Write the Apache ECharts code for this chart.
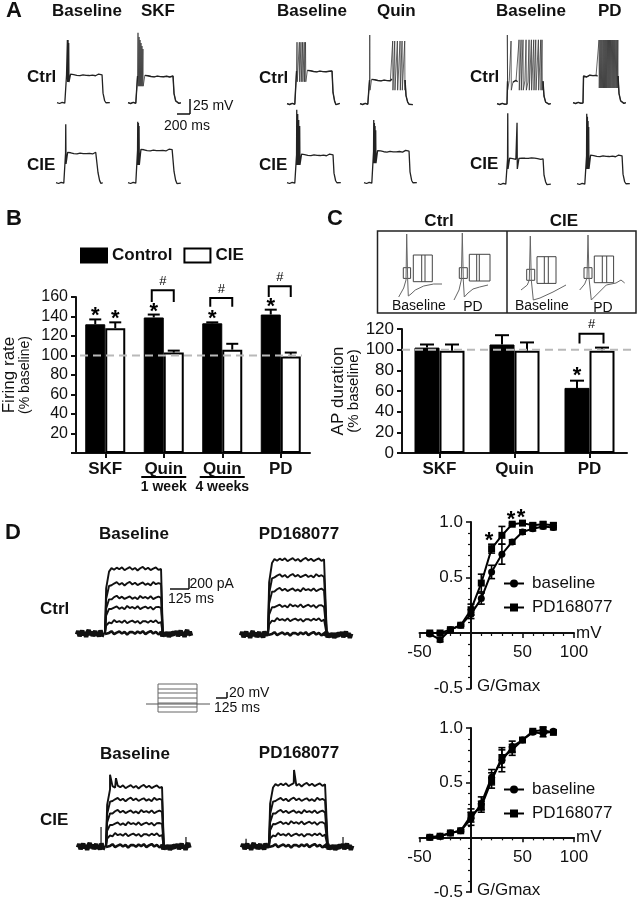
<!DOCTYPE html>
<html><head><meta charset="utf-8">
<style>html,body{margin:0;padding:0;background:#fff}#c{width:638px;height:899px}</style>
<script src="https://cdn.jsdelivr.net/npm/echarts@6/dist/echarts.min.js"></script>
</head><body><div id="c"></div>
<script>
// ---------- DATA ----------
const firingCats = ['SKF','Quin\n1 week','Quin\n4 weeks','PD'];
const firingControl = [132,139,133,142];
const firingCIE = [128,103,106,99];
const firingControlTop = [137,142,134,147];
const firingCIETop = [134,105,112,103];
const firingStars = [[0,-1,137],[0,1,134],[1,-1,142],[2,-1,134],[3,-1,147]];
const firingBrackets = [[1,167,155],[2,159,150],[3,171,160]];
const durCats = ['SKF','Quin','PD'];
const durControl = [102,105,63];
const durCIE = [99,99,99];
const durControlTop = [105,114,70];
const durCIETop = [105,107,102];
const durStars = [[2,-1,72]];
const durBrackets = [[2,115.5,106]];
const mV = [-40,-30,-20,-10,0,10,20,30,40,50,60,70,80];
const ctrlBaseG = [-0.01,-0.06,0.03,0.07,0.17,0.31,0.55,0.71,0.82,0.91,0.94,0.96,0.95];
const ctrlBaseE = [0.01,0.02,0.01,0.01,0.04,0.05,0.06,0.09,0.02,0.02,0.02,0.02,0.02];
const ctrlPdG = [0,0,0.03,0.07,0.21,0.45,0.76,0.88,0.98,0.99,0.97,0.98,0.97];
const ctrlPdE = [0.01,0.01,0.01,0.01,0.05,0.08,0.04,0.08,0.01,0.01,0.02,0.02,0.02];
const cieBaseG = [0,0.01,0.04,0.06,0.17,0.31,0.55,0.70,0.83,0.89,0.96,0.95,0.97];
const cieBaseE = [0.01,0.01,0.01,0.01,0.06,0.06,0.07,0.10,0.05,0.01,0.01,0.03,0.01];
const ciePdG = [0,0.01,0.04,0.06,0.20,0.28,0.52,0.73,0.80,0.89,0.97,0.98,0.96];
const ciePdE = [0.01,0.01,0.01,0.01,0.06,0.05,0.07,0.09,0.05,0.01,0.01,0.03,0.01];
const ctrlStars = [[17.5,0.83],[38.8,1.02],[48.5,1.04]];
// action-potential traces: ms, mV above rest
const plateauNoise = [0.8,-1.2,1.5,-0.5,1.0,-1.6,0.4,1.3,-0.9,0.6,-1.4,1.1,-0.3,0.9,-1.0];
const apCtrlBase1 = {on:139,off:693,end:832,plat:47,trough:35,spikes:[[160,105],[170,105],[180,100]]};
const apCtrlDrug1 = {on:139,off:693,end:832,plat:45,trough:28,spikes:[[154,117],[170,110],[185,105],[200,100],[215,95],[230,90]]};
const apCieBase1 = {on:139,off:631,end:739,plat:50,trough:32,spikes:[[150,98]]};
const apCieDrug1 = {on:139,off:693,end:832,plat:55,trough:30,spikes:[[150,102],[160,100],[170,95]]};
const apCtrlBase2 = {on:139,off:693,end:832,plat:55,trough:37,spikes:[[154,103],[190,103],[215,103],[240,103],[265,103],[285,103]]};
const apCieBase2 = {on:139,off:708,end:847,plat:47,trough:30,spikes:[[150,122],[165,115],[180,105],[195,95]]};
const apCtrlDrug2 = {on:139,off:693,end:832,plat:40,trough:23,spikes:[[150,115],[503,105],[534,105],[575,105],[616,105],[647,105],[688,105]]};
const apCieDrug2 = {on:139,off:693,end:832,plat:53,trough:33,spikes:[[150,105],[160,100],[170,95],[180,88]]};
const apCtrlBase3 = {on:154,off:708,end:832,plat:38,trough:23,spikes:[[159,115],[216,105],[339,107],[370,107],[400,107],[447,107],[493,107],[529,107],[565,107],[596,107],[637,107],[673,107],[693,107]]};
const apCtrlDrug3 = {on:154,off:693,end:832,plat:45,trough:25,spikes:[[400,105],[416,105],[432,105],[448,105],[465,105],[481,105],[497,105],[513,105],[530,105],[546,105],[562,105],[578,105],[595,105],[611,105],[627,105],[643,105],[660,105],[676,105],[690,105]]};
const apCieBase3 = {on:139,off:693,end:832,plat:42,trough:25,spikes:[[150,118],[293,102]]};
const apCieDrug3 = {on:139,off:693,end:832,plat:47,trough:25,spikes:[[150,117],[160,112],[170,105],[180,95]]};
// AP waveform insets
const waveCtrlBase = [[1.7,5],[6.7,14],[9,22],[9.7,68],[10.7,22],[11.3,6],[14,8],[18.3,12],[26.7,16],[36.7,18],[45,18]];
const waveCtrlPd = [[1,2],[6,12],[8.3,22],[9.3,69],[10.3,22],[11.3,5],[15,9],[20,13],[26.7,15],[35,17]];
const waveCieBase = [[1,12],[7.3,17],[9.3,22],[10.3,66],[11.3,22],[13.3,2],[20,4],[33,10],[46,17]];
const waveCiePd = [[1.7,12],[6.7,18],[9,24],[10,67],[11,24],[13.3,2],[18.3,7],[28.3,17],[38,19],[43,22],[46.7,19]];
// K current traces: ms, pA
const currentNoise = [30,-25,45,-10,55,-40,15,60,-20,35,-50,25,70,-15,40,-35,10,50,-30,20,-45,65,-5,30,-25,55,-40,10,45,-20,35,-55,25];
const iCtrlBase = {on:193,off:580,end:787,levels:[1170,900,650,470,216,20],tops:[],rest:[]};
const iCtrlPd = {on:186,off:580,end:766,levels:[1350,1060,810,520,270,20],tops:[],rest:[]};
const iCieBase = {on:193,off:580,end:773,levels:[1080,850,630,415,216,20],tops:[[221,1300],[262,1240]],rest:[[159,360],[745,180]]};
const iCiePd = {on:186,off:580,end:766,levels:[1116,850,630,430,216,20],tops:[[359,1386]],rest:[[28,150],[697,180]]};
const stepLevels = [-16,-6,2,12,22,30,40];
const stepTimes = [0,60,255,320];

// ---------- BUILD ----------
const F='"Liberation Sans",Arial,sans-serif';
const K='#111';
const grid=[],xAxis=[],yAxis=[],series=[],legend=[],els=[];
function hiddenGrid(l,t,w,h,x0,x1,y0,y1){
  grid.push({left:l,top:t,width:w,height:h,outerBoundsMode:'none'});
  xAxis.push({type:'value',show:false,min:x0,max:x1,gridIndex:grid.length-1});
  yAxis.push({type:'value',show:false,min:y0,max:y1,gridIndex:grid.length-1,splitLine:{show:false}});
  return grid.length-1;
}
function line(g,data,w,c){series.push({type:'line',xAxisIndex:g,yAxisIndex:g,data,symbol:'none',silent:true,clip:false,connectNulls:false,lineStyle:{width:w,color:c},animation:false});}
function apPoints(tr){
  const p=[],q=[];let n=0;const N=plateauNoise;
  const quiet=(t,v)=>{p.push([t,v]);q.push([t,v]);};
  const spike=(t,v)=>{p.push([t,v]);q.push([t,null]);};
  for(let t=0;t<tr.on;t+=40)quiet(t,N[n++%N.length]*0.7);
  quiet(tr.on,0);quiet(tr.on+8,tr.plat);
  let cur=tr.on+8;
  const fill=(a,b)=>{for(let t=a+25;t<b-8;t+=24)quiet(t,tr.plat+N[n++%N.length]);};
  tr.spikes.forEach(s=>{ if(s[0]-cur>40)fill(cur,s[0]); spike(s[0],s[1]);spike(s[0]+4,tr.trough);cur=s[0]+4;});
  if(tr.off-cur>20){fill(cur,tr.off);}
  quiet(tr.off,tr.plat);quiet(tr.off+15,tr.plat*0.35);quiet(tr.off+40,tr.plat*0.08);
  for(let t=tr.off+60;t<=tr.end;t+=30)quiet(t,N[n++%N.length]*0.7);
  return {all:p,quiet:q};
}
const mvPx=25/15,msPx=200/13;
function apTrace(tr,x0,base){
  const g=hiddenGrid(x0,base-80,60,100,0,60*msPx,-20*mvPx,80*mvPx);
  const dense=tr.spikes.length>=6;
  const pts=apPoints(tr);
  line(g,pts.all,dense?0.75:1.3,dense?'#333':'#222');
  if(dense)line(g,pts.quiet,1.4,'#222');
}
[[apCtrlBase1,57,103],[apCtrlDrug1,128,103],[apCieBase1,56,183],[apCieDrug1,128,183],
 [apCtrlBase2,287,104],[apCieBase2,287,183],[apCtrlDrug2,360,104],[apCieDrug2,364,183],
 [apCtrlBase3,497,104],[apCtrlDrug3,573,103],[apCieBase3,498,184],[apCieDrug3,577,184]]
 .forEach(a=>apTrace(a[0],a[1],a[2]));

function currentTrace(tr,x0,base){
  const g=hiddenGrid(x0,base-85,120,100,0,120*6.9,-15*18,85*18);
  const Nn=currentNoise;
  tr.levels.forEach((L,li)=>{
    const p=[[tr.on,0],[tr.on+8,L*0.7],[tr.on+28,L*0.96]];
    let n=li*5;
    for(let t=tr.on+45;t<tr.off-4;t+=18){
      p.push([t,L+Nn[n++%Nn.length]*0.55]);
    }
    if(li===0)tr.tops.forEach(s=>p.push(s));
    if(li===0)p.sort((a,b)=>a[0]-b[0]);
    p.push([tr.off,L]);p.push([tr.off+12,0]);
    line(g,p,li==5?2.6:1.9,K);
  });
  const left=[],right=[];let n=3;
  for(let t=0;t<=tr.on;t+=9)left.push([t,Nn[n++%Nn.length]]);
  for(let t=tr.off;t<=tr.end;t+=9)right.push([t,Nn[n++%Nn.length]]);
  line(g,left,4.5,K);line(g,right,4.5,K);
  tr.rest.forEach(s=>line(g,[[s[0],0],[s[0],s[1]]],1.2,K));
}
currentTrace(iCtrlBase,77,634);currentTrace(iCtrlPd,241,635);currentTrace(iCieBase,78,847);currentTrace(iCiePd,242,847);

// protocol
(function(){
  const g=hiddenGrid(146,666,64,48,0,320,-20,76);
  stepLevels.forEach(v=>{line(g,[[stepTimes[1],v],[stepTimes[2],v]],1,'#666');});
  line(g,[[stepTimes[1],stepLevels[0]],[stepTimes[1],stepLevels[6]]],1,'#666');
  line(g,[[stepTimes[2],stepLevels[0]],[stepTimes[2],stepLevels[6]]],1,'#666');
  line(g,[[stepTimes[0],0],[stepTimes[3],0]],1,'#555');
})();

// wave insets
[[waveCtrlBase,397],[waveCtrlPd,453],[waveCieBase,520],[waveCiePd,578]].forEach(a=>{
  const g=hiddenGrid(a[1],227,60,75,0,60,0,75);line(g,a[0],1,'#666');
});

function axisBar(l,t,w,h,cats,maxV,interval,fs,name,nameGap,hideZero){
  grid.push({left:l,top:t,width:w,height:h,outerBoundsMode:'none'});
  const g=grid.length-1;
  xAxis.push({type:'category',gridIndex:g,data:cats,boundaryGap:true,
    axisLine:{lineStyle:{color:K,width:2}},axisTick:{show:true,alignWithLabel:true,length:5,lineStyle:{color:K,width:2}},
    axisLabel:{interval:0,margin:7,color:K,formatter:v=>{const s=v.split('\n');return s.length>1?'{b|'+s[0]+'}\n{s|'+s[1]+'}':'{b|'+s[0]+'}';},
      rich:{b:{fontSize:17,fontWeight:'bold',fontFamily:F,color:K,lineHeight:19},s:{fontSize:14,fontWeight:'bold',fontFamily:F,color:K,lineHeight:17}}}});
  yAxis.push({type:'value',gridIndex:g,min:0,max:maxV,interval,splitLine:{show:false},
    name:'{a|'+name+'}\n{b|(% baseline)}',nameLocation:'middle',nameGap,nameRotate:90,
    nameTextStyle:{rich:{a:{fontSize:17,fontFamily:F,color:K,lineHeight:17},b:{fontSize:fs>16?15:14,fontFamily:F,color:K,lineHeight:15}}},
    axisLine:{show:true,lineStyle:{color:K,width:2}},axisTick:{show:true,length:5,lineStyle:{color:K,width:2}},
    axisLabel:{margin:8,color:K,fontSize:fs,fontFamily:F,formatter:v=>(hideZero&&v===0)?'':String(v)}});
  return g;
}
function bars(g,ctrl,cie,bw){
  series.push({type:'bar',name:'Control',xAxisIndex:g,yAxisIndex:g,data:ctrl,barWidth:bw,barGap:0,itemStyle:{color:'#000',borderColor:'#000',borderWidth:1},silent:true,z:2});
  series.push({type:'bar',name:'CIE',xAxisIndex:g,yAxisIndex:g,data:cie,barWidth:bw,barGap:0,itemStyle:{color:'#fff',borderColor:'#000',borderWidth:2},silent:true,z:2});
}
function barErr(g,vals,tops,shift,cap){
  series.push({type:'custom',xAxisIndex:g,yAxisIndex:g,silent:true,z:1,data:vals.map((v,i)=>[i,v,tops[i]]),
    renderItem:(p,api)=>{
      const a=api.coord([api.value(0),api.value(1)]),b=api.coord([api.value(0),api.value(2)]);
      const x=a[0]+shift;const st={stroke:'#000',lineWidth:2};
      return {type:'group',children:[
        {type:'line',shape:{x1:x,y1:a[1],x2:x,y2:b[1]},style:st},
        {type:'line',shape:{x1:x-cap,y1:b[1],x2:x+cap,y2:b[1]},style:st}]};
    }});
}
function annotate(g,stars,brackets,shift,bl,br,under,dash0,dash1,dashDash){
  series.push({type:'custom',xAxisIndex:g,yAxisIndex:g,silent:true,z:5,data:stars,
    renderItem:(p,api)=>{const c=api.coord([api.value(0),api.value(2)]);
      return {type:'text',x:c[0]+api.value(1)*shift,y:c[1]-3,style:{text:'*',font:'bold 22px '+F,fill:'#000',textAlign:'center',textVerticalAlign:'middle'}};}});
  series.push({type:'custom',xAxisIndex:g,yAxisIndex:g,silent:true,z:5,data:brackets,
    renderItem:(p,api)=>{const t=api.coord([api.value(0),api.value(1)]),b=api.coord([api.value(0),api.value(2)]);
      const x1=t[0]+bl,x2=t[0]+br;
      return {type:'group',children:[
        {type:'polyline',shape:{points:[[x1,b[1]],[x1,t[1]],[x2,t[1]],[x2,b[1]]]},style:{stroke:'#000',lineWidth:2,fill:null}},
        {type:'text',x:(x1+x2)/2,y:t[1]-9,style:{text:'#',font:'13px '+F,fill:'#000',textAlign:'center',textVerticalAlign:'middle'}}]};}});
  series.push({type:'custom',xAxisIndex:g,yAxisIndex:g,silent:true,z:6,data:[[0,100]],
    renderItem:(p,api)=>{const c=api.coord([0,100]);const s=p.coordSys;
      return {type:'line',shape:{x1:s.x+dash0,y1:c[1],x2:s.x+s.width+dash1,y2:c[1]},style:{stroke:'#b9b9b9',lineWidth:2,lineDash:dashDash}};}});
  if(under.length) series.push({type:'custom',xAxisIndex:g,yAxisIndex:g,silent:true,z:5,data:under.map(i=>[i,0]),
    renderItem:(p,api)=>{const c=api.coord([api.value(0),0]);
      return {type:'line',shape:{x1:c[0]-22.5,y1:c[1]+24,x2:c[0]+22.5,y2:c[1]+24},style:{stroke:'#000',lineWidth:2}};}});
}
const gB=axisBar(76,297,234,156,firingCats,160,20,16,'Firing rate',43,true);
bars(gB,firingControl,firingCIE,20);
barErr(gB,firingControl,firingControlTop,-10,6);barErr(gB,firingCIE,firingCIETop,10,6);
annotate(gB,firingStars,firingBrackets,10,-12,10,[1,2],4,-8,[8,5]);
const gC=axisBar(402,329,225,124,durCats,120,20,17,'AP duration',36,false);
bars(gC,durControl,durCIE,25);
barErr(gC,durControl,durControlTop,-12.5,7);barErr(gC,durCIE,durCIETop,12.5,7);
annotate(gC,durStars,durBrackets,12.5,-10,14,[],0,9,[8,5]);

function xy(l,t,w,h,base,baseE,pd,pdE,stars,legTop){
  grid.push({left:l,top:t,width:w,height:h,outerBoundsMode:'none'});
  const g=grid.length-1;
  const ax={axisTick:{show:true,length:5,lineStyle:{color:K,width:1.6}},
    minorTick:{show:true,splitNumber:5,length:3,lineStyle:{color:K,width:1.2}},splitLine:{show:false}};
  const line2={show:true,onZero:false,lineStyle:{color:K,width:2}};
  xAxis.push(Object.assign({type:'value',gridIndex:g,min:-50,max:100,interval:50,position:'bottom',offset:-h/3,axisLine:line2,name:'mV',nameGap:2,nameTextStyle:{fontSize:17,fontFamily:F,color:K},
    axisLabel:{margin:11,fontSize:17,fontFamily:F,color:K,formatter:v=>v===0?'':String(v)}},ax));
  yAxis.push(Object.assign({type:'value',gridIndex:g,min:-0.5,max:1,interval:0.5,position:'left',offset:-w/3,axisLine:line2,name:'G/Gmax',nameLocation:'start',nameGap:-2,
    nameTextStyle:{fontSize:17,fontFamily:F,color:K,align:'left',padding:[0,0,0,6],verticalAlign:'middle'},
    axisLabel:{margin:8,fontSize:17,fontFamily:F,color:K,formatter:v=>v===0?'':v.toFixed(1)}},ax));
  const err=(vals,es)=>series.push({type:'custom',xAxisIndex:g,yAxisIndex:g,silent:true,z:3,data:mV.map((m,i)=>[m,vals[i],es[i]]),
    renderItem:(p,api)=>{const x=api.value(0),y=api.value(1),e=api.value(2);const a=api.coord([x,y+e]),b=api.coord([x,y-e]);const st={stroke:'#000',lineWidth:1.6};
      return {type:'group',children:[{type:'line',shape:{x1:a[0],y1:a[1],x2:b[0],y2:b[1]},style:st},
        {type:'line',shape:{x1:a[0]-3.5,y1:a[1],x2:a[0]+3.5,y2:a[1]},style:st},
        {type:'line',shape:{x1:b[0]-3.5,y1:b[1],x2:b[0]+3.5,y2:b[1]},style:st}]};}});
  err(base,baseE);err(pd,pdE);
  const s=(name,vals,sym,size)=>series.push({type:'line',name,xAxisIndex:g,yAxisIndex:g,data:mV.map((m,i)=>[m,vals[i]]),symbol:sym,symbolSize:size,silent:true,z:4,showSymbol:true,
    lineStyle:{color:'#000',width:2},itemStyle:{color:'#000'}});
  s('baseline',base,'circle',7);s('PD168077',pd,'rect',7);
  if(stars.length)series.push({type:'custom',xAxisIndex:g,yAxisIndex:g,silent:true,z:5,data:stars,
    renderItem:(p,api)=>{const c=api.coord([api.value(0),api.value(1)]);
      return {type:'text',x:c[0],y:c[1],style:{text:'*',font:'bold 22px '+F,fill:'#000',textAlign:'center',textVerticalAlign:'middle'}};}});
  legend.push({left:503,top:legTop,padding:0,orient:'vertical',itemWidth:20,itemHeight:10,itemGap:7,selectedMode:false,data:['baseline','PD168077'],
    textStyle:{fontSize:17,fontFamily:F,color:K,padding:[0,0,0,3]}});
}
xy(419.5,522,154.5,166.5,ctrlBaseG,ctrlBaseE,ctrlPdG,ctrlPdE,ctrlStars,575);
xy(419.5,728,154.5,164,cieBaseG,cieBaseE,ciePdG,ciePdE,[],781);
legend.push({left:80,top:247,padding:0,orient:'horizontal',icon:'rect',itemWidth:26,itemHeight:14,itemGap:11,selectedMode:false,data:['Control','CIE'],
  textStyle:{fontSize:17,fontWeight:'bold',fontFamily:F,color:K}});

// ---------- TEXT + FRAMES ----------
function txt(s,x,y,size,bold,align){els.push({type:'text',x,y,silent:true,style:{text:s,font:(bold?'bold ':'')+size+'px '+F,fill:K,textAlign:align||'left',textVerticalAlign:'middle'}});}
function seg(x1,y1,x2,y2,w,c){els.push({type:'line',silent:true,shape:{x1,y1,x2,y2},style:{stroke:c||K,lineWidth:w||1.5}});}
function box(x,y,w,h,lw,c){els.push({type:'rect',silent:true,shape:{x,y,width:w,height:h},style:{stroke:c||'#444',lineWidth:lw||1,fill:null}});}
txt('A',6,11,22,1);txt('B',6,219,22,1);txt('C',327,219,22,1);txt('D',5,533,22,1);
txt('Baseline',52,11,17,1);txt('SKF',141,11,17,1);txt('Baseline',277,11,17,1);txt('Quin',377,11,17,1);txt('Baseline',496,11,17,1);txt('PD',598,11,17,1);
txt('Ctrl',27,77,17,1);txt('CIE',27,165,17,1);txt('Ctrl',259,78,17,1);txt('CIE',259,165,17,1);txt('Ctrl',470,77,17,1);txt('CIE',470,164,17,1);
seg(190,99,190,114);seg(177,114,190,114);txt('25 mV',193,106,14);txt('200 ms',164,126,14);
txt('Ctrl',439,221,17,1,'center');txt('CIE',564,221,17,1,'center');
box(377.5,231,258.5,82,1.5,'#222');seg(507,231,507,313,1.5,'#222');
txt('Baseline',392,306,14);txt('PD',473,307,14,0,'center');txt('Baseline',515,306,14);txt('PD',603,308,14,0,'center');
[[403.3,267.7,7.3,10.7,413.3,255,19,26.7,421.7,425],[459.3,267.7,8,10.7,469.3,254.3,20.7,26.7,476.7,479.3],
 [526.7,269.3,8,11,537,256.7,19,26.7,544.3,548.3],[584,267.7,8,10.7,594.3,256,19.3,26.7,602.3,606.7]].forEach(b=>{
  box(b[0],b[1],b[2],b[3]);box(b[4],b[5],b[6],b[7]);seg(b[8],b[5],b[8],b[5]+b[7],1,'#444');seg(b[9],b[5],b[9],b[5]+b[7],1,'#444');
});
txt('Baseline',134,534,17,1,'center');txt('PD168077',299,534,17,1,'center');txt('Baseline',135,754,17,1,'center');txt('PD168077',299,753,17,1,'center');
txt('Ctrl',40,609,17,1);txt('CIE',40,820,17,1);
seg(189,578,189,589);seg(170,589,189,589);txt('200 pA',189.5,584,14);txt('125 ms',168,599,14);
seg(227,692,227,698);seg(216,698,227,698);txt('20 mV',229,693,14);txt('125 ms',214,708,14);

const chart=echarts.init(document.getElementById('c'),null,{width:638,height:899});
chart.setOption({animation:false,backgroundColor:'#fff',grid,xAxis,yAxis,series,legend,graphic:{elements:els}});
</script></body></html>
